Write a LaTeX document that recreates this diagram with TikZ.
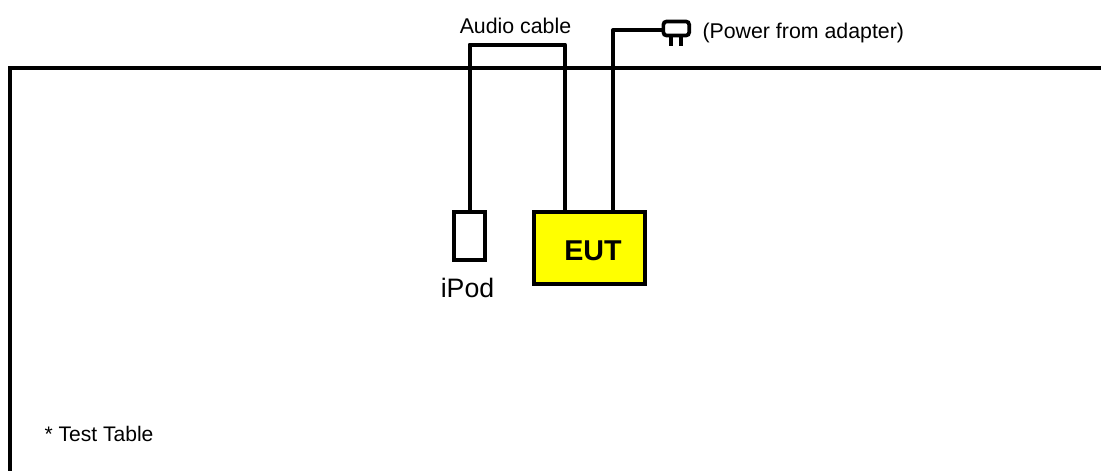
\documentclass[tikz,border=0pt]{standalone}
\usepackage{fontspec}
\setmainfont{Liberation Sans}
\definecolor{euty}{RGB}{255,255,0}
\tikzset{
  wire/.style={draw=black,line width=3pt,line join=round},
  tableedge/.style={draw=black,line width=3pt,line join=miter},
  box/.style={draw=black,line width=3pt,inner sep=0pt,outer sep=0pt},
  prong/.style={draw=black,line width=2.4pt},
  lbl/.style={inner sep=0pt,outer sep=0pt,text=black},
  small/.style={font=\fontsize{16pt}{19pt}\selectfont},
}
\begin{document}
\begin{tikzpicture}[x=0.75pt,y=-0.75pt]
\useasboundingbox (0,0) rectangle (1101,471);
% table
\coordinate (tl) at (10,68);
\coordinate (tr) at (1101,68);
\coordinate (bl) at (10,471);
\draw[tableedge] (bl) -- (tl) -- (tr);
% devices
\node[box,fill=white,minimum width=23.6pt,minimum height=36pt] (ipod) at (469.5,236.3) {};
\node[box,fill=euty,minimum width=83.6pt,minimum height=53.8pt] (eut) at (589.5,248) {};
\node[lbl,font=\fontsize{21.5pt}{24pt}\selectfont\bfseries] (eutl) at (593,250.5) {EUT};
% plug
\node[box,rounded corners=2.5pt,line width=2.8pt,minimum width=19.4pt,minimum height=10.6pt] (plug) at (676.3,28.5) {};
\coordinate (p1a) at (671,37);
\coordinate (p1b) at (671,46);
\coordinate (p2a) at (681,37);
\coordinate (p2b) at (681,46);
\draw[prong] (p1a) -- (p1b);
\draw[prong] (p2a) -- (p2b);
% cables
\coordinate (a1) at (469.5,44.5);
\coordinate (a2) at (565,44.5);
\coordinate (p1) at (613.3,30);
\draw[wire] (ipod.north) -- (a1) -- (a2) -- (a2 |- eut.north);
\draw[wire] (p1 |- eut.north) -- (p1) -- (p1 -| plug.west);
% labels
\node[lbl,small] (audio) at (515.5,26) {Audio cable};
\node[lbl,small,anchor=west] (power) at (702.5,32.5) {(Power from adapter)};
\node[lbl,font=\fontsize{20pt}{23pt}\selectfont] (ipodl) at (467.5,288) {iPod};
\node[lbl,font=\fontsize{15.8pt}{19pt}\selectfont,anchor=west] (note) at (44.5,433.5) {* Test Table};
\end{tikzpicture}
\end{document}
